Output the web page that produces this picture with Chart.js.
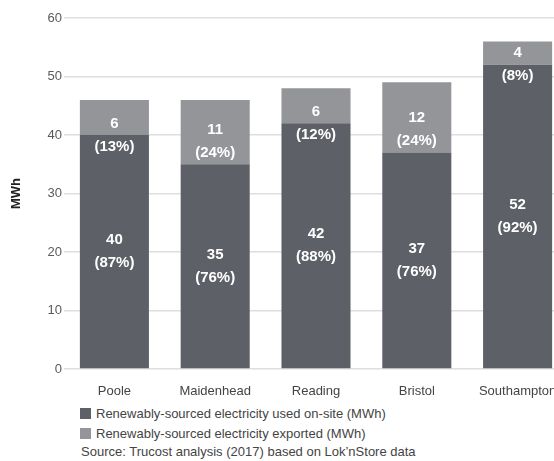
<!DOCTYPE html>
<html>
<head>
<meta charset="utf-8">
<script src="https://cdn.jsdelivr.net/npm/chart.js@4.4.1/dist/chart.umd.min.js"></script>
<style>
    html, body { margin: 0; padding: 0; background: #fff; overflow: hidden; }
    body { width: 554px; height: 461px; position: relative; font-family: "Liberation Sans", Arial, sans-serif; color: #444; }
    #chart { position: absolute; left: 0; top: 0; }
    #legend { position: absolute; left: 80px; top: 404px; font-size: 13px; }
    #legend div { height: 20px; line-height: 20px; white-space: nowrap; }
    #legend .box { display: inline-block; width: 11px; height: 11px; margin-right: 5px; vertical-align: -1px; }
    #source { position: absolute; left: 81px; top: 442px; font-size: 13px; line-height: 20px; white-space: nowrap; }
</style>
</head>
<body>
<canvas id="chart" width="568" height="400"></canvas>
<div id="legend"></div>
<div id="source">Source: Trucost analysis (2017) based on Lok’nStore data</div>
<script>
// ===== data =====
const sites = ['Poole', 'Maidenhead', 'Reading', 'Bristol', 'Southampton'];
const usedOnSite = [40, 35, 42, 37, 52];        // MWh
const exported = [6, 11, 6, 12, 4];             // MWh
const usedShare = [87, 76, 88, 76, 92];         // % of total
const exportedShare = [13, 24, 12, 24, 8];      // % of total
const yTicks = [0, 10, 20, 30, 40, 50, 60];

const FONT = '"Liberation Sans", Arial, sans-serif';

// ===== value + share labels inside the bars =====
const barLabels = {
    id: 'barLabels',
    afterDatasetsDraw(chart) {
        const ctx = chart.ctx;
        ctx.save();
        ctx.fillStyle = '#fff';
        ctx.font = 'bold 15px ' + FONT;
        ctx.textAlign = 'center';
        ctx.textBaseline = 'middle';
        chart.data.datasets.forEach((ds, d) => {
            chart.getDatasetMeta(d).data.forEach((bar, i) => {
                const top = Math.min(bar.y, bar.base);
                const bottom = Math.max(bar.y, bar.base);
                let mid;
                if (d === 0) mid = (top + bottom) / 2;
                else if (bottom - top > 45) mid = bottom - 23;   // fits above the join
                else mid = bottom;                              // short segment: sit on the join
                ctx.fillText(ds.data[i], bar.x, mid - 11.5);
                ctx.fillText('(' + ds.share[i] + '%)', bar.x, mid + 11.5);
            });
        });
        ctx.restore();
    }
};

const chart = new Chart(document.getElementById('chart'), {
    type: 'bar',
    data: {
        labels: sites,
        datasets: [
            {
                label: 'Renewably-sourced electricity used on-site (MWh)',
                data: usedOnSite,
                share: usedShare,
                backgroundColor: '#5e6067'
            },
            {
                label: 'Renewably-sourced electricity exported (MWh)',
                data: exported,
                share: exportedShare,
                backgroundColor: '#949599'
            }
        ]
    },
    options: {
        responsive: false,
        animation: false,
        layout: { padding: { top: 18, left: 0, right: 0, bottom: 0 } },
        datasets: { bar: { categoryPercentage: 1, barPercentage: 0.685 } },
        plugins: { legend: { display: false }, tooltip: { enabled: false } },
        scales: {
            x: {
                stacked: true,
                grid: { display: false },
                border: { display: false },
                ticks: { color: '#444', font: { family: FONT, size: 13 }, padding: 7, maxRotation: 0 },
                afterFit: s => { s.height = 31; }
            },
            y: {
                stacked: true,
                min: yTicks[0],
                max: yTicks[yTicks.length - 1],
                grid: { color: '#dedede', lineWidth: 1.5, drawTicks: false },
                border: { display: false },
                ticks: {
                    stepSize: yTicks[1] - yTicks[0],
                    color: '#5a5a5a',
                    padding: 2,
                    font: { family: FONT, size: 13 }
                },
                title: {
                    display: true,
                    text: 'MWh',
                    color: '#222',
                    font: { family: FONT, size: 13, weight: 'bold' },
                    padding: { top: 9, bottom: 0 }
                },
                afterFit: s => { s.width = 64; }
            }
        }
    },
    plugins: [barLabels]
});

// ===== legend =====
const legend = document.getElementById('legend');
chart.data.datasets.forEach(ds => {
    const row = document.createElement('div');
    row.innerHTML = `<span class="box" style="background:${ds.backgroundColor}"></span>${ds.label}`;
    legend.appendChild(row);
});
</script>
</body>
</html>
